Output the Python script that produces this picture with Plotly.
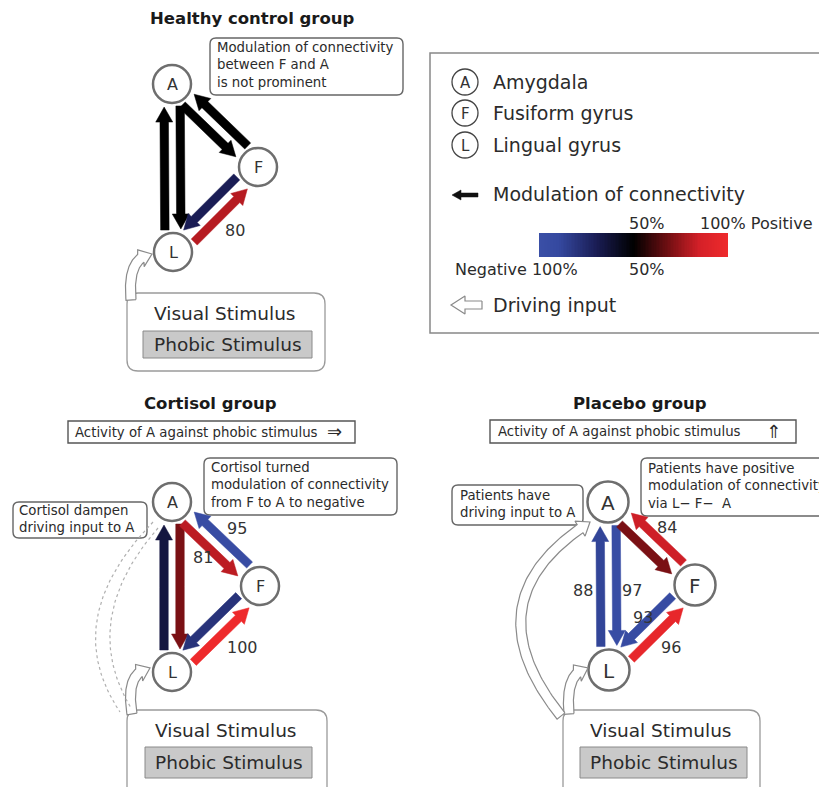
import numpy as np
import plotly.graph_objects as go
from plotly.colors import sample_colorscale

# ---------------- data ----------------
nodes = ["A", "F", "L"]
node_names = ["Amygdala", "Fusiform gyrus", "Lingual gyrus"]
groups = ["Healthy control group", "Cortisol group", "Placebo group"]
edge_source = ["L", "A", "A", "F", "F", "L"]
edge_target = ["A", "L", "F", "A", "L", "F"]
# signed posterior probability (%) of modulation: + positive, - negative, 50 = not prominent
healthy_values = [50, 50, 50, 50, -70, 80]
cortisol_values = [-65, 70, 81, -95, -80, 100]
placebo_values = [-88, -97, 70, 84, -93, 96]
healthy_labels = ["", "", "", "", "", "80"]
cortisol_labels = ["", "", "81", "95", "", "100"]
placebo_labels = ["88", "97", "", "84", "93", "96"]
scale_top_labels = ["50%", "100% Positive"]
scale_bottom_labels = ["Negative 100%", "50%"]
group_notes = [
    ["Modulation of connectivity<br>between F and A<br>is not prominent"],
    ["Cortisol turned<br>modulation of connectivity<br>from F to A to negative",
     "Cortisol dampen<br>driving input to A"],
    ["Patients have positive<br>modulation of connectivity<br>via L\u2212 F\u2212  A",
     "Patients have<br>driving input to A"],
]
activity_text = "Activity of A against phobic stimulus"
activity_symbols = ["", "\u21d2", "\u21d1"]

COLORSCALE = [[0.0, "#3a4fa6"], [0.1, "#3549a0"], [0.3, "#1a1d55"], [0.5, "#000000"],
              [0.7, "#7a1014"], [0.85, "#d42028"], [1.0, "#ee2a2c"]]


def value_to_t(v):
    return 0.5 + np.sign(v) * (abs(v) - 50) / 100.0


# ---------------- layout (positions / styles) ----------------
FONT = "DejaVu Sans"
TXT = "#2b2b2b"
PAGE_OFF = 8  # browser body margin
group_layout = {
    "Healthy control group": dict(
        title=(252, 18), r=19, fs=16,
        pos={"A": (172, 84), "F": (258, 167), "L": (173, 252)},
        labels={5: (235, 230)},
        notes=[dict(box=(210, 38, 403, 95), txt=(215, 65))],
        visual=(127, 293, 325, 371), phobic=(143, 331, 312, 358),
        drive=[((131, 300), (127, 257), (152, 254))],
        activity=None),
    "Cortisol group": dict(
        title=(210, 403), r=19, fs=16,
        pos={"A": (172, 502), "F": (260, 586), "L": (172, 672)},
        labels={2: (203, 557), 3: (237, 528), 5: (242, 647)},
        notes=[dict(box=(204, 458, 397, 515), txt=(209, 485)),
               dict(box=(13, 502, 147, 538), txt=(17, 519))],
        visual=(127, 710, 327, 800), phobic=(145, 747, 312, 778),
        drive=[((132, 714), (125, 672), (150, 668))],
        activity=dict(box=(68, 421, 355, 443), txt=(73, 432), sym=(334, 431))),
    "Placebo group": dict(
        title=(640, 403), r=20.5, fs=20,
        pos={"A": (608, 502), "F": (695, 585), "L": (609, 670)},
        labels={0: (583, 590), 1: (632, 590), 3: (667, 527), 4: (643, 617), 5: (671, 647)},
        notes=[dict(box=(641, 458, 840, 516), txt=(646, 486)),
               dict(box=(452, 485, 583, 525), txt=(458, 504))],
        visual=(563, 710, 760, 800), phobic=(580, 747, 747, 778),
        drive=[((569, 714), (565, 672), (588, 668)),
               ((561, 716), (468, 600), (590, 522))],
        activity=dict(box=(490, 420, 796, 443), txt=(496, 431), sym=(773, 431))),
}
edge_side = [1, 1, -1, -1, -1, -1]
LANE = 8


def rrect(x0, y0, x1, y1, r):
    return (f"M{x0+r},{y0} L{x1-r},{y0} Q{x1},{y0} {x1},{y0+r} L{x1},{y1-r} "
            f"Q{x1},{y1} {x1-r},{y1} L{x0+r},{y1} Q{x0},{y1} {x0},{y1-r} "
            f"L{x0},{y0+r} Q{x0},{y0} {x0+r},{y0} Z")


def arrow_poly(P0, P1, P2, w, hw, hl, n=80):
    P0, P1, P2 = (np.array(p, float) for p in (P0, P1, P2))
    t = np.linspace(0, 1, n)[:, None]
    pts = (1 - t) ** 2 * P0 + 2 * (1 - t) * t * P1 + t ** 2 * P2
    seg = np.diff(pts, axis=0)
    L = np.concatenate([[0], np.cumsum(np.hypot(seg[:, 0], seg[:, 1]))])
    total = L[-1]
    cut = total - hl
    base = np.array([np.interp(cut, L, pts[:, 0]), np.interp(cut, L, pts[:, 1])])
    sp = np.vstack([pts[L < cut], base])
    tang = np.gradient(sp, axis=0)
    tang /= np.hypot(tang[:, 0], tang[:, 1])[:, None]
    nrm = np.stack([-tang[:, 1], tang[:, 0]], 1)
    left = sp + nrm * w / 2
    right = sp - nrm * w / 2
    tip = pts[-1]
    d = (tip - base) / np.linalg.norm(tip - base)
    nb = np.array([-d[1], d[0]])
    poly = np.vstack([left, [base + nb * hw / 2], [tip], [base - nb * hw / 2],
                      right[::-1], left[:1]])
    return poly[:, 0], poly[:, 1]


def straight(p0, p1, w, hw, hl):
    mid = ((p0[0] + p1[0]) / 2, (p0[1] + p1[1]) / 2)
    return arrow_poly(p0, mid, p1, w, hw, hl, n=3)


fig = go.Figure()
shapes = []
annotations = []


def text(x, y, s, size, xanchor="left", bold=False, color=TXT, align="left"):
    annotations.append(dict(x=x, y=y, xref="x", yref="y", text=f"<b>{s}</b>" if bold else s,
                            showarrow=False, xanchor=xanchor, yanchor="middle", align=align,
                            font=dict(family=FONT, size=size, color=color)))


def hollow_arrow(P0, P1, P2, w=10, hw=18, hl=12):
    xs, ys = arrow_poly(P0, P1, P2, w, hw, hl)
    fig.add_trace(go.Scatter(x=xs, y=ys, mode="lines", fill="toself", fillcolor="white",
                             line=dict(color="#8a8a8a", width=1.2), hoverinfo="skip"))


values_by_group = [healthy_values, cortisol_values, placebo_values]
labels_by_group = [healthy_labels, cortisol_labels, placebo_labels]

for gi, g in enumerate(groups):
    lay = group_layout[g]
    text(lay["title"][0], lay["title"][1], g, 16.5, xanchor="center", bold=True, color="#1a1a1a")
    # visual stimulus box
    vx0, vy0, vx1, vy1 = lay["visual"]
    shapes.append(dict(type="path", path=rrect(vx0, vy0, vx1, vy1, 11), xref="x", yref="y",
                       line=dict(color="#9a9a9a", width=1.3), fillcolor="white", layer="below"))
    px0, py0, px1, py1 = lay["phobic"]
    shapes.append(dict(type="rect", x0=px0, y0=py0, x1=px1, y1=py1, xref="x", yref="y",
                       line=dict(color="#8a8a8a", width=1), fillcolor="#c9c9c9", layer="below"))
    text((vx0 + vx1) / 2 - 1, vy0 + 20.5, "Visual Stimulus", 18.5, xanchor="center")
    text((px0 + px1) / 2, (py0 + py1) / 2, "Phobic Stimulus", 18.5, xanchor="center")
    # driving input arrows
    for P0, P1, P2 in lay["drive"]:
        hollow_arrow(P0, P1, P2)
    # dampened input (dotted) for cortisol
    if g == "Cortisol group":
        for P0, P1, P2 in [((153, 522), (58, 620), (120, 712)), ((158, 528), (78, 620), (131, 708))]:
            t = np.linspace(0, 1, 60)
            bx = (1 - t) ** 2 * P0[0] + 2 * (1 - t) * t * P1[0] + t ** 2 * P2[0]
            by = (1 - t) ** 2 * P0[1] + 2 * (1 - t) * t * P1[1] + t ** 2 * P2[1]
            fig.add_trace(go.Scatter(x=bx, y=by, mode="lines",
                                     line=dict(color="#b0b0b0", width=1.2, dash="dot"),
                                     hoverinfo="skip"))
    # notes
    for note, s in zip(lay["notes"], group_notes[gi]):
        bx0, by0, bx1, by1 = note["box"]
        shapes.append(dict(type="path", path=rrect(bx0, by0, bx1, by1, 6), xref="x", yref="y",
                           line=dict(color="#666666", width=1.4), fillcolor="white", layer="below"))
        text(note["txt"][0], note["txt"][1], s, 13.3)
    if lay["activity"]:
        a = lay["activity"]
        bx0, by0, bx1, by1 = a["box"]
        shapes.append(dict(type="rect", x0=bx0, y0=by0, x1=bx1, y1=by1, xref="x", yref="y",
                           line=dict(color="#555555", width=1.4), fillcolor="white", layer="below"))
        text(a["txt"][0], a["txt"][1], activity_text, 13.3)
        text(a["sym"][0], a["sym"][1], activity_symbols[gi], 18, xanchor="center")
    # edges
    pos = lay["pos"]
    r = lay["r"]
    for ei, (s, tgt) in enumerate(zip(edge_source, edge_target)):
        p = np.array(pos[s], float)
        q = np.array(pos[tgt], float)
        d = (q - p) / np.linalg.norm(q - p)
        perp = np.array([d[1], -d[0]])
        off = perp * LANE * edge_side[ei]
        start = p + d * (r + 3) + off
        end = q - d * (r + 4) + off
        col = sample_colorscale(COLORSCALE, [value_to_t(values_by_group[gi][ei])])[0]
        xs, ys = straight(tuple(start), tuple(end), 8.5, 17, 15)
        fig.add_trace(go.Scatter(x=xs, y=ys, mode="lines", fill="toself", fillcolor=col,
                                 line=dict(color=col, width=0.5), hoverinfo="skip"))
        lab = labels_by_group[gi][ei]
        if lab:
            lx, ly = lay["labels"][ei]
            text(lx, ly, lab, 16, xanchor="center", color="#333333")
    # nodes
    for n in nodes:
        cx, cy = pos[n]
        shapes.append(dict(type="circle", x0=cx - r, x1=cx + r, y0=cy - r, y1=cy + r,
                           xref="x", yref="y", line=dict(color="#6e6e6e", width=2.5),
                           fillcolor="white", layer="below"))
        text(cx, cy + 0.5, n, lay["fs"], xanchor="center", color="#333333")

# ---------------- legend ----------------
shapes.append(dict(type="rect", x0=430, y0=53, x1=822, y1=333, xref="x", yref="y",
                   line=dict(color="#888888", width=1.5), fillcolor="white", layer="below"))
for i, (n, name) in enumerate(zip(nodes, node_names)):
    cy = [82, 113, 145][i]
    shapes.append(dict(type="circle", x0=452, x1=478, y0=cy - 13, y1=cy + 13, xref="x", yref="y",
                       line=dict(color="#444444", width=1.3), fillcolor="white", layer="below"))
    text(465, cy + 0.5, n, 15, xanchor="center", color="#333333")
    text(491, cy, name, 19)
xs, ys = straight((478, 195), (452, 195), 4, 10, 9)
fig.add_trace(go.Scatter(x=xs, y=ys, mode="lines", fill="toself", fillcolor="#111111",
                         line=dict(color="#111111", width=0.5), hoverinfo="skip"))
text(491, 194, "Modulation of connectivity", 19)
zvals = np.linspace(0, 1, 120)
fig.add_trace(go.Heatmap(z=[zvals], x=np.linspace(539, 728, 121), y=[233, 257],
                         colorscale=COLORSCALE, zmin=0, zmax=1, showscale=False, hoverinfo="skip"))
text(647, 223, scale_top_labels[0], 16, xanchor="center")
text(698, 223, scale_top_labels[1], 16)
text(453, 269, scale_bottom_labels[0], 16)
text(647, 269, scale_bottom_labels[1], 16, xanchor="center")
xs, ys = straight((482, 305), (451, 305), 8, 18, 14)
fig.add_trace(go.Scatter(x=xs, y=ys, mode="lines", fill="toself", fillcolor="white",
                         line=dict(color="#8a8a8a", width=1.2), hoverinfo="skip"))
text(491, 305, "Driving input", 19)

W, H = 827, 787
fig.update_layout(
    width=W - PAGE_OFF, height=H - PAGE_OFF, margin=dict(l=0, r=0, t=0, b=0),
    xaxis=dict(range=[PAGE_OFF, W], visible=False, fixedrange=True),
    yaxis=dict(range=[H, PAGE_OFF], visible=False, fixedrange=True),
    showlegend=False, plot_bgcolor="white", paper_bgcolor="white",
    shapes=shapes, annotations=annotations,
)
fig.write_html("out.html")
